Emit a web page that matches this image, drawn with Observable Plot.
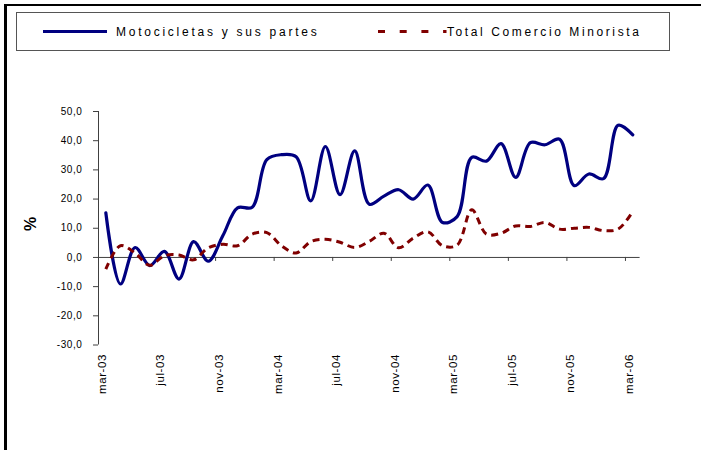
<!DOCTYPE html>
<html>
<head>
<meta charset="utf-8">
<script src="https://cdn.jsdelivr.net/npm/d3@7"></script>
<script src="https://cdn.jsdelivr.net/npm/@observablehq/plot@0.6"></script>
<style>
  body { margin: 0; background: #fff; }
  #wrap { position: relative; width: 701px; height: 450px; overflow: hidden; background: #fff;
          font-family: "Liberation Sans", Arial, sans-serif; }
  #frame { position: absolute; left: 4px; top: 4px; width: 720px; height: 470px;
           border-left: 3px solid #000; border-top: 2px solid #000; box-sizing: border-box; }
  #legend { position: absolute; left: 0; top: 0; }
  #chart { position: absolute; left: 0; top: 55px; }
  #ylab { position: absolute; left: 31px; top: 224px; transform: translate(-50%, -50%) rotate(-90deg);
          font: bold 16px "Liberation Sans", Arial, sans-serif; color: #000; white-space: nowrap; }
  #chart g[aria-label="y-axis tick label"] text { letter-spacing: 0.6px; }
  #chart g[aria-label="x-axis tick label"] text { letter-spacing: 0.6px; }
</style>
</head>
<body>
<div id="wrap">
  <div id="frame"></div>
  <svg id="legend" width="701" height="55" font-family="Liberation Sans, Arial, sans-serif">
    <rect x="16.5" y="12.5" width="653" height="38" fill="#fff" stroke="#555" stroke-width="1"></rect>
    <line x1="43" x2="107" y1="31.5" y2="31.5" stroke="#000080" stroke-width="3"></line>
    <text id="lt1" x="116" y="35.5" font-size="12" style="letter-spacing:2.75px" fill="#000"></text>
    <line x1="378" x2="446.5" y1="31.5" y2="31.5" stroke="#800000" stroke-width="3" stroke-dasharray="7,14.7"></line>
    <text id="lt2" x="447" y="35.5" font-size="12" style="letter-spacing:2.6px" fill="#000"></text>
  </svg>
  <div id="chart"></div>
  <div id="ylab">%</div>
</div>
<script>
// ---- data ----
const months = ["mar-03","abr-03","may-03","jun-03","jul-03","ago-03","sep-03","oct-03","nov-03","dic-03",
  "ene-04","feb-04","mar-04","abr-04","may-04","jun-04","jul-04","ago-04","sep-04","oct-04","nov-04","dic-04",
  "ene-05","feb-05","mar-05","abr-05","may-05","jun-05","jul-05","ago-05","sep-05","oct-05","nov-05","dic-05",
  "ene-06","feb-06","mar-06"];
const seriesNames = ["Motocicletas y sus partes", "Total Comercio Minorista"];
const motocicletas = [15.3, -9.1, 3.4, -2.8, 2.1, -7.4, 5.4, -1.3, 7.5, 17.0, 17.2, 33.5, 35.2, 34.5, 19.4, 38.0,
  21.5, 36.5, 18.2, 21.0, 23.2, 20.0, 24.8, 12.0, 14.0, 34.3, 33.0, 39.0, 27.4, 39.3, 38.6, 40.5, 24.6, 28.6,
  27.0, 45.3, 42.0];
const totalMinorista = [-4.0, 4.0, 1.5, -2.7, 0.6, 0.8, -0.8, 3.3, 4.5, 4.0, 8.0, 8.5, 4.0, 1.5, 5.4, 6.2,
  5.2, 3.4, 5.5, 8.3, 3.3, 6.6, 8.8, 4.0, 4.2, 16.3, 8.0, 8.3, 10.8, 10.6, 12.0, 9.7, 10.0, 10.3, 9.2, 9.7, 15.8];
const tickLabels = ["mar-03","jul-03","nov-03","mar-04","jul-04","nov-04","mar-05","jul-05","nov-05","mar-06"];
const yTicks = [-30, -20, -10, 0, 10, 20, 30, 40, 50];

document.getElementById("lt1").textContent = seriesNames[0];
document.getElementById("lt2").textContent = seriesNames[1];

const motoRows = motocicletas.map((v, i) => ({i, v}));
const totRows = totalMinorista.map((v, i) => ({i, v}));
const tickIdx = tickLabels.map(l => months.indexOf(l));
const fmt = d => d.toFixed(1).replace(".", ",");

const chart = Plot.plot({
  width: 701,
  height: 395,
  marginTop: 56,
  marginBottom: 105.5,
  marginLeft: 98,
  marginRight: 61.4,
  x: {type: "linear", domain: [-0.5, months.length - 0.5]},
  y: {domain: [-30, 50]},
  style: {fontFamily: "Liberation Sans, Arial, sans-serif", background: "transparent", color: "#000"},
  marks: [
    Plot.axisY({ticks: yTicks, tickFormat: fmt, tickSize: 5, tickPadding: 11, label: null,
                stroke: "#404040", fontSize: 10, fill: "#000"}),
    Plot.axisX({ticks: tickIdx, tickFormat: i => months[i], tickRotate: -90, tickSize: 0, tickPadding: 9,
                label: null, fontSize: 11.5, dx: -3.6, fill: "#000"}),
    Plot.ruleX([-0.5], {stroke: "#404040"}),
    Plot.ruleY([0], {stroke: "#404040"}),
    Plot.ruleX(tickIdx.map(i => i - 0.5), {y1: 0, y2: 0, insetBottom: -4, stroke: "#404040"}),
    Plot.line(motoRows, {x: "i", y: "v", stroke: "#000080", strokeWidth: 3.2, curve: "catmull-rom"}),
    Plot.line(totRows, {x: "i", y: "v", stroke: "#800000", strokeWidth: 3, curve: "catmull-rom",
                        strokeDasharray: "7,5", strokeLinecap: "butt"})
  ]
});
document.getElementById("chart").appendChild(chart);
</script>
</body>
</html>
